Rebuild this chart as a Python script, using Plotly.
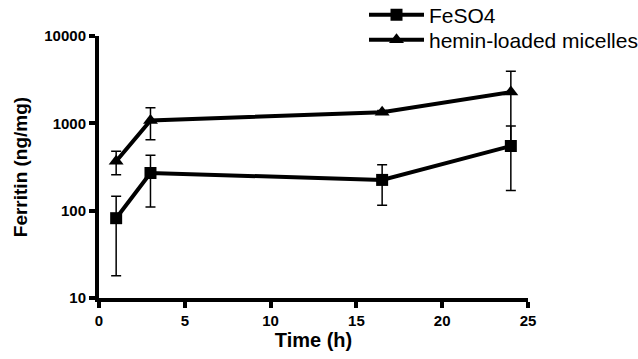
import plotly.graph_objects as go

time_h = [1, 3, 16.5, 24]
feso4 = [82, 270, 225, 550]
feso4_err = [64, 160, 110, 380]
hemin = [368, 1080, 1340, 2280]
hemin_err = [110, 430, 60, 1680]

x_ticks = [0, 5, 10, 15, 20, 25]
y_ticks = [10, 100, 1000, 10000]
y_ticktext = ["10", "100", "1000", "10000"]

FONT = "Arial, Liberation Sans, sans-serif"

fig = go.Figure()
fig.add_trace(go.Scatter(
    x=time_h, y=feso4, name="FeSO4", mode="lines+markers", legend="legend",
    line=dict(color="black", width=4),
    marker=dict(symbol="square", size=12, color="black"),
    error_y=dict(type="data", array=feso4_err, color="black", thickness=1.5, width=5),
))
fig.add_trace(go.Scatter(
    x=time_h, y=hemin, name="hemin-loaded micelles", mode="lines+markers", legend="legend2",
    line=dict(color="black", width=4),
    marker=dict(symbol="triangle-up", size=13, color="black"),
    error_y=dict(type="data", array=hemin_err, color="black", thickness=1.5, width=5),
))

leg_common = dict(xref="container", yref="container", xanchor="left", yanchor="middle",
                  font=dict(size=21, family=FONT), bgcolor="rgba(0,0,0,0)", itemwidth=55)

fig.update_layout(
    width=638, height=359,
    margin=dict(l=99, r=110, t=36, b=61, autoexpand=False),
    paper_bgcolor="white", plot_bgcolor="white",
    font=dict(family=FONT, color="black"),
    legend=dict(x=364/638, y=1 - 15/359, **leg_common),
    legend2=dict(x=364/638, y=1 - 40/359, **leg_common),
    showlegend=True,
)
fig.update_xaxes(
    range=[0, 25], tickvals=x_ticks, showgrid=False, zeroline=False,
    showline=True, linecolor="black", linewidth=4,
    ticks="outside", ticklen=6, tickwidth=4, tickcolor="black",
    tickfont=dict(size=15, weight="bold", family=FONT),
    title=dict(text="<b>Time (h)</b>", font=dict(size=20, family=FONT), standoff=4),
)
fig.update_yaxes(
    type="log", range=[1, 4], tickvals=y_ticks, ticktext=y_ticktext,
    showgrid=False, zeroline=False,
    showline=True, linecolor="black", linewidth=4,
    ticks="outside", ticklen=6, tickwidth=4, tickcolor="black",
    tickfont=dict(size=15, weight="bold", family=FONT),
    title=dict(text="<b>Ferritin (ng/mg)</b>", font=dict(size=19, family=FONT), standoff=13),
)

fig.write_html("out.html")
